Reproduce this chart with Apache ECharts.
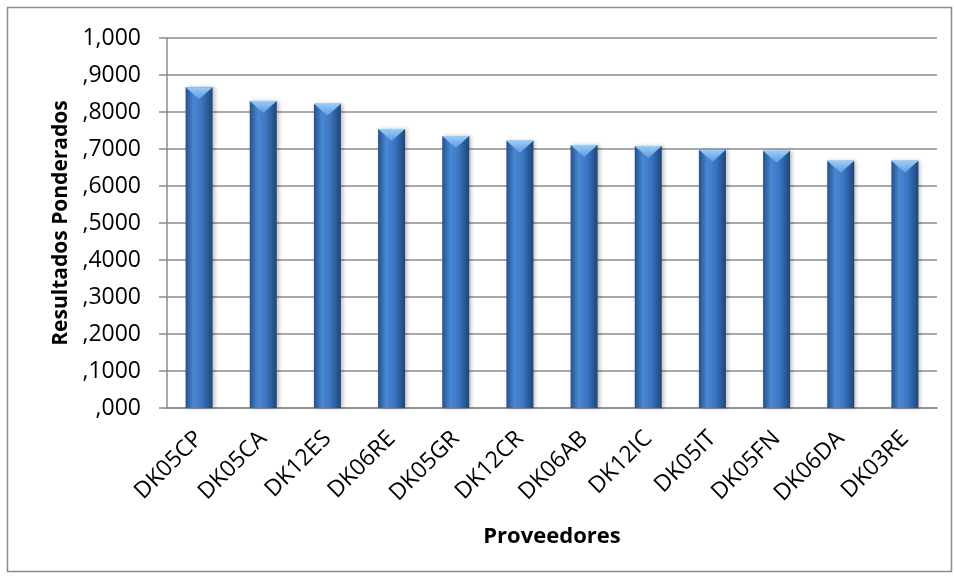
<!DOCTYPE html>
<html lang="es">
<head>
<meta charset="UTF-8">
<title>Resultados Ponderados</title>
<script src="https://cdn.jsdelivr.net/npm/echarts@6/dist/echarts.min.js"></script>
<style>
  html, body { margin: 0; padding: 0; background: #fff; }
  #chart { width: 954px; height: 578px; }
</style>
</head>
<body>
<div id="chart"></div>
<script>
// datos del grafico
const proveedores = ['DK05CP', 'DK05CA', 'DK12ES', 'DK06RE', 'DK05GR', 'DK12CR',
                     'DK06AB', 'DK12IC', 'DK05IT', 'DK05FN', 'DK06DA', 'DK03RE'];
const resultados = [0.867, 0.830, 0.822, 0.754, 0.735, 0.722,
                    0.711, 0.708, 0.698, 0.695, 0.668, 0.668];
const yTickLabels = [',000', ',1000', ',2000', ',3000', ',4000', ',5000',
                     ',6000', ',7000', ',8000', ',9000', '1,000'];

const font = 'Open Sans, Liberation Sans, sans-serif';
let myChart = echarts.init(document.getElementById('chart'));

let option = {
    backgroundColor: '#fff',
    animation: false,
    graphic: [{
        type: 'rect',
        shape: { x: 7.5, y: 7.5, width: 944, height: 564 },
        style: { fill: 'none', stroke: '#8c8c8c', lineWidth: 1.5 },
        silent: true
    }],
    grid: { left: 167, right: 17, top: 38, bottom: 170 },
    xAxis: {
        type: 'category',
        data: proveedores,
        name: 'Proveedores',
        nameLocation: 'middle',
        nameGap: 118,
        nameTextStyle: { fontFamily: font, fontSize: 22, fontWeight: 'bold', color: '#000' },
        axisLine: { lineStyle: { color: '#8c8c8c', width: 1.5 } },
        axisTick: { show: false },
        axisLabel: { rotate: 45, margin: 27, fontFamily: font, fontSize: 23, color: '#000', interval: 0 }
    },
    yAxis: {
        type: 'value',
        min: 0,
        max: 1,
        interval: 0.1,
        name: 'Resultados Ponderados',
        nameLocation: 'middle',
        nameGap: 95,
        nameTextStyle: { fontFamily: font, fontSize: 21, fontWeight: 'bold', color: '#000' },
        axisLine: { show: true, lineStyle: { color: '#8c8c8c', width: 1.5 } },
        axisTick: { show: true, inside: false, length: 8, lineStyle: { color: '#8c8c8c', width: 1.5 } },
        splitLine: { lineStyle: { color: '#8c8c8c', width: 1.5 } },
        axisLabel: {
            margin: 26,
            fontFamily: font,
            fontSize: 23,
            color: '#000',
            formatter: function (v) { return yTickLabels[Math.round(v * 10)]; }
        }
    },
    series: [
        {
            name: 'Resultados',
            type: 'bar',
            data: resultados,
            barWidth: 27,
            barGap: '-100%',
            itemStyle: {
                color: new echarts.graphic.LinearGradient(0, 0, 1, 0, [
                    { offset: 0, color: '#25508c' },
                    { offset: 0.3, color: '#4a87d2' },
                    { offset: 0.6, color: '#3c76c2' },
                    { offset: 1, color: '#1f4578' }
                ]),
                shadowColor: 'rgba(0,0,0,0.25)',
                shadowBlur: 4,
                shadowOffsetX: 2
            },
            z: 2
        },
        {
            name: 'tapa',
            type: 'pictorialBar',
            data: resultados,
            symbol: 'path://M0,0 L10,0 L5,4 Z',
            symbolSize: [27, 12],
            symbolPosition: 'end',
            symbolOffset: [0, 0],
            barGap: '-100%',
            itemStyle: {
                color: new echarts.graphic.LinearGradient(0, 0, 0, 1, [
                    { offset: 0, color: '#9cccf5' },
                    { offset: 1, color: '#5d9ae0' }
                ])
            },
            z: 3
        }
    ]
};

myChart.setOption(option);
</script>
</body>
</html>
